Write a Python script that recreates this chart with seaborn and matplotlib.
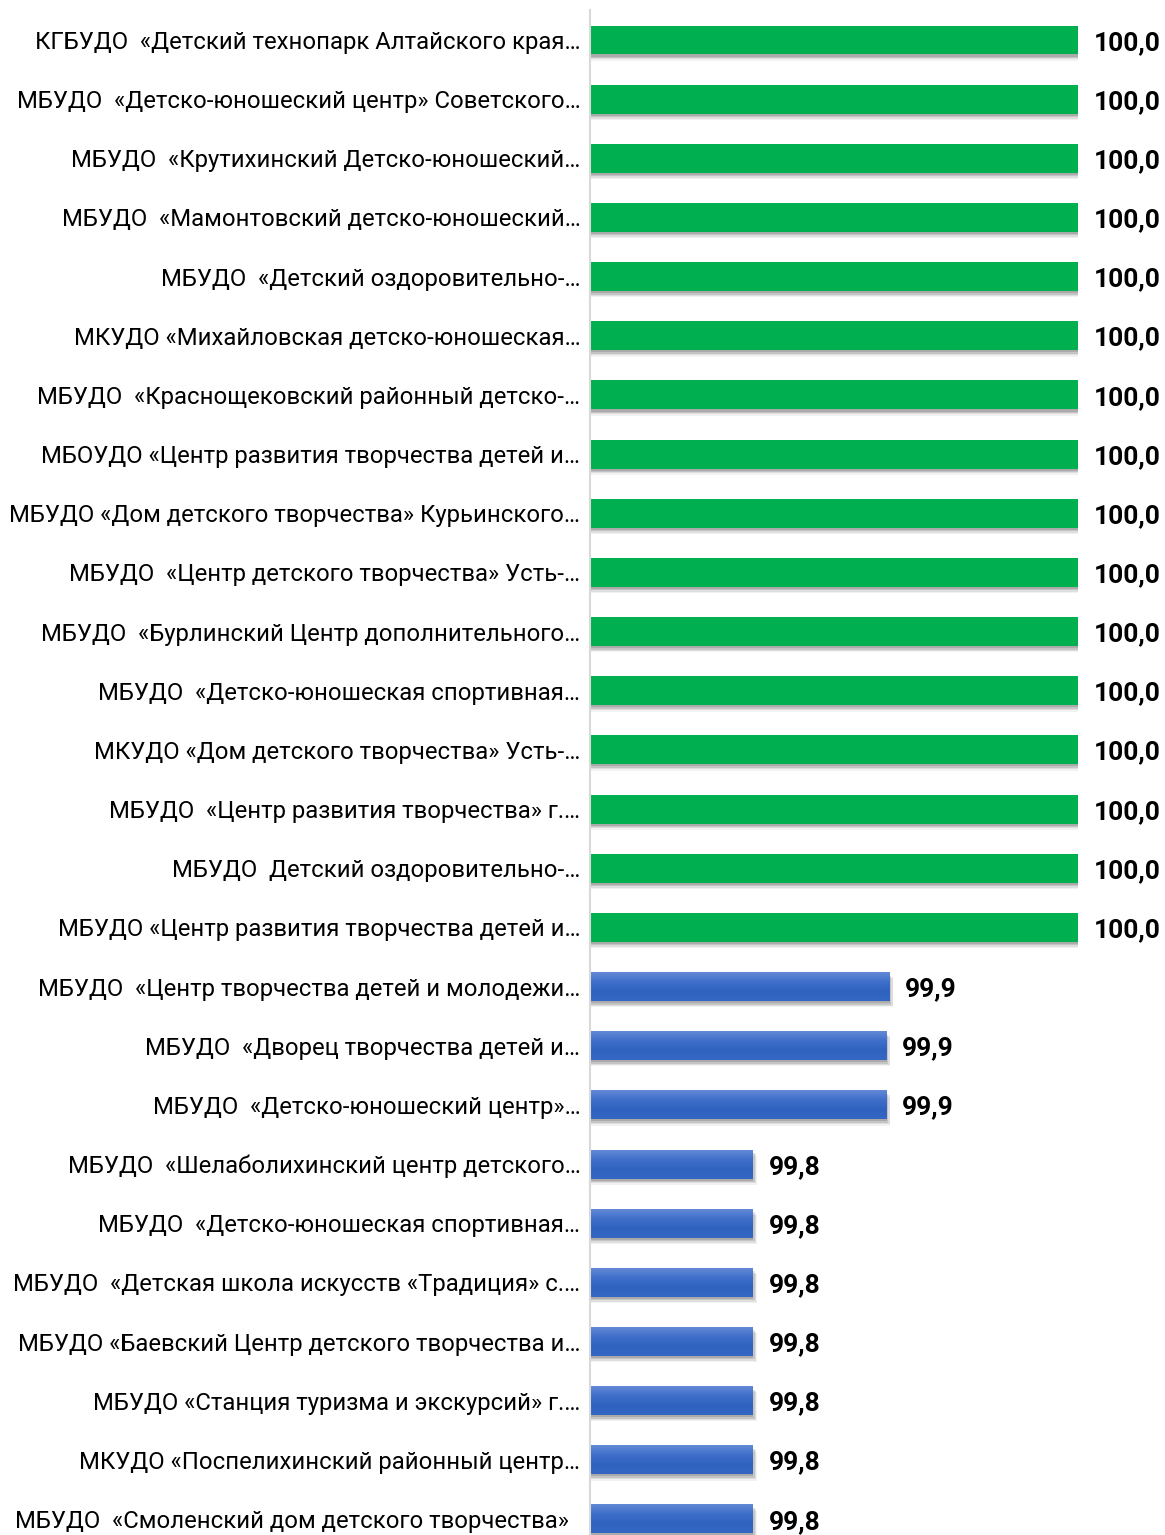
import matplotlib
matplotlib.use("Agg")
import matplotlib.pyplot as plt
import seaborn as sns
import pandas as pd
import numpy as np
from matplotlib import patheffects as pe
from matplotlib.colors import LinearSegmentedColormap

labels = [
    "КГБУДО  «Детский технопарк Алтайского края…",
    "МБУДО  «Детско-юношеский центр» Советского…",
    "МБУДО  «Крутихинский Детско-юношеский…",
    "МБУДО  «Мамонтовский детско-юношеский…",
    "МБУДО  «Детский оздоровительно-…",
    "МКУДО «Михайловская детско-юношеская…",
    "МБУДО  «Краснощековский районный детско-…",
    "МБОУДО «Центр развития творчества детей и…",
    "МБУДО «Дом детского творчества» Курьинского…",
    "МБУДО  «Центр детского творчества» Усть-…",
    "МБУДО  «Бурлинский Центр дополнительного…",
    "МБУДО  «Детско-юношеская спортивная…",
    "МКУДО «Дом детского творчества» Усть-…",
    "МБУДО  «Центр развития творчества» г.…",
    "МБУДО  Детский оздоровительно-…",
    "МБУДО «Центр развития творчества детей и…",
    "МБУДО  «Центр творчества детей и молодежи…",
    "МБУДО  «Дворец творчества детей и…",
    "МБУДО  «Детско-юношеский центр»…",
    "МБУДО  «Шелаболихинский центр детского…",
    "МБУДО  «Детско-юношеская спортивная…",
    "МБУДО  «Детская школа искусств «Традиция» с.…",
    "МБУДО «Баевский Центр детского творчества и…",
    "МБУДО «Станция туризма и экскурсий» г.…",
    "МКУДО «Поспелихинский районный центр…",
    "МБУДО  «Смоленский дом детского творчества»  ",
]

values = [100.0] * 16 + [99.884, 99.882, 99.882] + [99.8] * 7

groups = ["top" if v >= 99.95 else "rest" for v in values]

df = pd.DataFrame({
    "pos": [str(i) for i in range(len(labels))],
    "value": values,
    "group": groups,
})

sns.set_theme(style="white")
plt.rcParams["font.family"] = ["Roboto", "DejaVu Sans"]

W, H = 1165, 1535
fig = plt.figure(figsize=(W / 100, H / 100), dpi=100)
pitch = 59.16
n = len(labels)
top_px = 40 - pitch / 2
ax_h = n * pitch
ax = fig.add_axes([590 / W, 1 - (top_px + ax_h) / H, (1078 - 590) / W, ax_h / H])

sns.barplot(data=df, y="pos", x="value", hue="group",
            palette={"top": "#00B050", "rest": "#4472C4"},
            order=list(df["pos"]), width=0.49, dodge=False, legend=False,
            saturation=1, linewidth=0, ax=ax)

xmin, xmax = 99.7, 100.0
ax.set_xlim(xmin, xmax)

shadow = [pe.SimplePatchShadow(offset=(0.5, -1.5), shadow_rgbFace="#303030", alpha=0.18),
          pe.SimplePatchShadow(offset=(1.5, -2.5), shadow_rgbFace="#303030", alpha=0.14),
          pe.SimplePatchShadow(offset=(2.5, -3.5), shadow_rgbFace="#303030", alpha=0.10),
          pe.SimplePatchShadow(offset=(3.0, -4.5), shadow_rgbFace="#303030", alpha=0.06),
          pe.Normal()]
grad_cmap = LinearSegmentedColormap.from_list("g", ["#6389D6", "#3F6FCA", "#2F62C0", "#3566C4"])
grad = np.linspace(0, 1, 64).reshape(-1, 1)
for p in ax.patches:
    p.set_path_effects(shadow)
    fc = p.get_facecolor()
    if abs(fc[0] - 0x44 / 255) < 0.02 and abs(fc[2] - 0xC4 / 255) < 0.02:
        y0 = p.get_y()
        y1 = y0 + p.get_height()
        x1 = p.get_x() + p.get_width()
        ax.imshow(grad, cmap=grad_cmap, aspect="auto", origin="upper",
                  extent=(xmin, x1, max(y0, y1), min(y0, y1)),
                  zorder=p.get_zorder() + 0.1, interpolation="bilinear")

ax.set_xlim(xmin, xmax)
ax.set_ylim(n - 0.5, -0.5)

for i, v in enumerate(values):
    ax.annotate(f"{v:.1f}".replace(".", ","), xy=(v, i), xytext=(11.5, -2),
                textcoords="offset points", ha="left", va="center",
                fontweight="bold", fontsize=19, color="black",
                annotation_clip=False)

ax.set_yticks(range(n))
ax.set_yticklabels(labels, fontsize=17.2, color="black")
ax.tick_params(axis="y", length=0, pad=7)
ax.set_xticks([])
ax.set_xlabel("")
ax.set_ylabel("")
for s in ["top", "right", "bottom"]:
    ax.spines[s].set_visible(False)
ax.spines["left"].set_color("#D9D9D9")
ax.spines["left"].set_linewidth(1.5)

fig.savefig("out.png", dpi=100)
